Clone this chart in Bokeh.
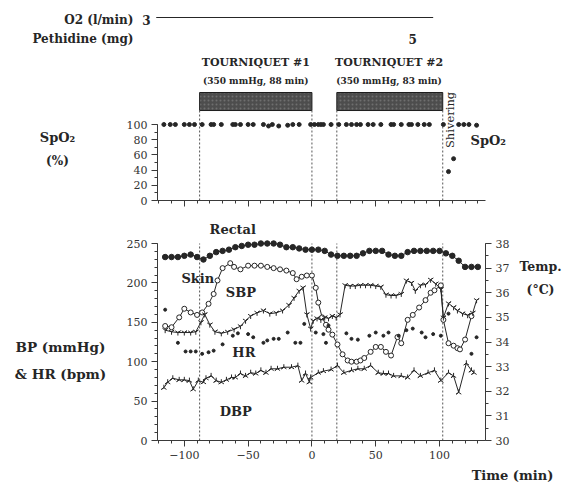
import numpy as np
from bokeh.plotting import figure
from bokeh.models import Range1d, LinearAxis, SingleIntervalTicker
from bokeh.layouts import column, row
from bokeh.embed import file_html
from bokeh.resources import INLINE
from bokeh.core.properties import value

# ---------------- data ----------------
tq_start = [-88, 19.5]          # tourniquet inflation (min)
tq_dur = [88, 83]               # tourniquet duration (min)
o2_span = [-122, 95]            # O2 3 l/min period
pethidine_t = 79                # pethidine 5 mg given

spo2_t = [-116, -111, -107, -100, -96, -92, -86, -79, -77, -71, -62, -60, -56, -50, -46, -38, -34, -31, -26, -19,
          -15, -10, -1, 2, 5, 7, 9, 15, 21, 27, 31, 35, 38, 44, 48, 54, 62, 64, 70, 76,
          78, 83, 88, 92, 103, 107, 111, 115, 119, 123, 129]
spo2_v = [100, 100, 100, 100, 100, 100, 100, 100, 100, 100, 100, 100, 100, 100, 100, 100, 98, 100, 98, 99,
          100, 100, 100, 100, 100, 100, 100, 100, 100, 100, 100, 100, 100, 100, 100, 100, 100, 100, 100, 100,
          100, 100, 100, 100, 100, 38, 55, 100, 100, 100, 99]

rectal_t = [-115, -110, -105, -100, -95, -90, -85, -80, -75, -70, -65, -60, -55, -50, -45, -40, -35, -30, -25, -20,
            -15, -10, -5, 0, 5, 10, 15, 20, 25, 30, 35, 40, 45, 50, 55, 60, 65, 70, 75, 80,
            85, 90, 95, 100, 105, 110, 115, 120, 125, 130]
rectal_c = [37.45, 37.45, 37.45, 37.5, 37.55, 37.45, 37.35, 37.5, 37.65, 37.7, 37.75, 37.85, 37.9, 37.95, 37.95, 38.0, 38.0, 38.0, 37.95, 37.85,
            37.85, 37.8, 37.75, 37.75, 37.75, 37.7, 37.55, 37.5, 37.5, 37.5, 37.5, 37.6, 37.7, 37.7, 37.7, 37.55, 37.5, 37.5, 37.65, 37.7,
            37.7, 37.7, 37.7, 37.7, 37.6, 37.5, 37.3, 37.05, 37.05, 37.05]

skin_t = [-115, -110, -104, -100, -95, -90, -86, -81, -77, -74, -70, -64, -61, -56, -50, -45, -40, -35, -30, -25,
          -20, -15, -12, -8, -4, 0, 3, 5, 8, 11, 13, 16, 20, 24, 28, 31, 35, 38, 41, 46,
          50, 54, 58, 62, 67, 70, 75, 79, 84, 89, 93, 96, 101, 103, 107, 111, 114, 116, 120, 125]
skin_c = [34.65, 34.6, 35.0, 35.35, 35.2, 35.1, 35.2, 35.55, 35.95, 36.5, 37.0, 37.2, 37.05, 36.95, 37.1, 37.1, 37.1, 37.05, 37.0, 36.95,
          36.9, 36.8, 36.55, 36.65, 36.7, 36.7, 36.2, 35.6, 35.0, 34.7, 34.5, 34.3, 33.9, 33.5, 33.25, 33.2, 33.2, 33.25, 33.35, 33.6,
          33.8, 33.8, 33.6, 33.45, 34.2, 33.95, 34.9, 35.1, 35.4, 35.7, 36.0, 36.1, 36.3, 34.9, 33.95, 33.85, 33.75, 33.7, 34.1, 35.05]

sbp_t = [-115, -110, -105, -100, -95, -91, -87, -84, -80, -76, -71, -66, -61, -56, -52, -48, -43, -38, -33, -28,
         -23, -18, -14, -10, -7, -4, -1, 1, 4, 7, 10, 13, 16, 19, 22, 26, 30, 34, 38, 42,
         46, 50, 54, 58, 62, 66, 70, 74, 78, 81, 85, 89, 93, 97, 101, 103, 107, 111, 114, 118,
         122, 126, 129]
sbp_v = [140, 138, 137, 137, 137, 138, 150, 160, 147, 138, 136, 138, 141, 145, 152, 158, 162, 165, 161, 162,
         165, 172, 181, 190, 194, 160, 142, 152, 155, 153, 156, 155, 158, 156, 160, 197, 196, 196, 197, 197,
         197, 196, 195, 185, 184, 184, 186, 203, 200, 190, 197, 198, 204, 199, 192, 156, 174, 169, 165, 161,
         159, 162, 178]

dbp_t = [-116, -113, -109, -104, -100, -96, -93, -89, -85, -83, -79, -75, -71, -67, -63, -60, -56, -52, -48, -44,
         -40, -36, -32, -27, -22, -16, -11, -8, -5, -2, -1, 5, 9, 15, 20, 25, 31, 36, 41, 46,
         52, 56, 60, 64, 70, 75, 80, 85, 91, 96, 101, 107, 111, 115, 121, 125, 127]
dbp_v = [67, 74, 79, 77, 77, 76, 65, 76, 74, 79, 82, 76, 74, 77, 80, 80, 85, 82, 86, 85,
         89, 86, 91, 91, 93, 93, 95, 76, 85, 74, 80, 86, 88, 90, 95, 86, 89, 91, 91, 95,
         86, 85, 85, 82, 82, 80, 89, 82, 86, 89, 76, 86, 82, 61, 98, 89, 86]

hr_t = [-115, -105, -99, -95, -91, -86, -81, -77, -70, -62, -58, -50, -46, -38, -35, -30, -26, -19, -13, -9,
        -6, 3, 9, 11, 13, 27, 31, 36, 45, 50, 56, 60, 68, 74, 79, 86, 89, 95, 101, 107,
        125, 129]
hr_v = [166, 124, 113, 113, 113, 110, 112, 114, 122, 133, 136, 135, 131, 124, 127, 129, 129, 137, 124, 124,
        148, 137, 135, 124, 146, 136, 129, 128, 133, 137, 133, 137, 133, 140, 142, 137, 131, 135, 133, 161,
        110, 131]

x_ticks = [-150, -100, -50, 0, 50, 100, 150]

# ---------------- styling / geometry ----------------
INK = "#262626"
AX = "#3a3a3a"
SERIF = "DejaVu Serif"
W = 570
X0, X1 = -121, 136                  # time axis extent
FL, FR = 157, 485                    # plot frame left / right (px)
S = (FR - FL) / (X1 - X0)            # px per minute
LW = 122                             # width of left text column


def px2min(px):
    return X0 + (px - FL) / S


def text_fig(w, h, xr, yr):
    p = figure(width=w, height=h, x_range=xr, y_range=yr, output_backend="svg",
               toolbar_location=None, x_axis_location=None, y_axis_location=None,
               min_border_left=0, min_border_right=0, min_border_top=0, min_border_bottom=0)
    p.outline_line_color = None
    p.grid.visible = False
    return p


def txt(p, x, y, s, size="13px", bold=True, align="center", angle=0.0):
    p.text(x=[x], y=[y], text=[s], text_font=value(SERIF), text_font_size=value(size),
           text_font_style=value("bold" if bold else "normal"), text_color=INK,
           text_align=value(align), text_baseline=value("middle"), angle=angle)


def style_axis(ax):
    ax.axis_line_color = AX
    ax.major_tick_line_color = AX
    ax.minor_tick_line_color = AX
    ax.major_tick_in = 0
    ax.major_tick_out = 6
    ax.minor_tick_in = 0
    ax.minor_tick_out = 3
    ax.major_label_text_font = SERIF
    ax.major_label_text_font_size = "11px"
    ax.major_label_text_color = "#333333"
    ax.major_label_standoff = 4


tq_end = [s + d for s, d in zip(tq_start, tq_dur)]
marks = tq_start + tq_end

# ---------------- header (O2 / pethidine), page y 0..50 ----------------
head = text_fig(W, 50, Range1d(px2min(0), px2min(W)), Range1d(50, 0))
head.line(x=o2_span, y=[17, 17], line_color=INK, line_width=1.2)
txt(head, px2min(133), 19, "O2 (l/min)", "12px", align="right")
txt(head, px2min(146), 19, "3", "12px")
txt(head, px2min(133), 38, "Pethidine (mg)", "12px", align="right")
txt(head, pethidine_t, 38, "5", "12px")

# ---------------- SpO2 panel, page y 50..215 ----------------
TOP_R = 520
top = figure(width=W - LW, height=165, x_range=Range1d(X0, px2min(TOP_R)),
             y_range=Range1d(0, 100 * (200 - 50) / (200 - 124)),
             output_backend="svg", toolbar_location=None,
             min_border_left=FL - LW, min_border_right=W - TOP_R, min_border_top=0, min_border_bottom=15)
top.outline_line_color = None
top.grid.visible = False
top.xaxis.ticker = SingleIntervalTicker(interval=50, num_minor_ticks=5)
top.yaxis.ticker = SingleIntervalTicker(interval=20, num_minor_ticks=2)
top.xaxis.bounds = (X0, X1)
top.yaxis.bounds = (0, 100)
style_axis(top.xaxis[0])
style_axis(top.yaxis[0])
top.xaxis.major_label_overrides = {t: "" for t in x_ticks}

top.quad(left=tq_start, right=tq_end, bottom=118.4, top=142.1,
         fill_color="#4d4d4d", line_color="#1e1e1e", line_width=1,
         hatch_pattern="dot", hatch_color="#8a8a8a", hatch_scale=4, hatch_alpha=0.55)
top.segment(x0=marks, x1=marks, y0=[0] * 4, y1=[118.4] * 4,
            line_color="#555555", line_dash="2 2", line_width=1)
top.scatter(spo2_t, spo2_v, marker="circle", size=4, color=INK)
txt(top, -44, 181.6, "TOURNIQUET #1", "11px")
txt(top, -44, 156.6, "(350 mmHg, 88 min)", "9px")
txt(top, 60.4, 181.6, "TOURNIQUET #2", "11px")
txt(top, 60.4, 156.6, "(350 mmHg, 83 min)", "9px")
txt(top, px2min(449), 106, "Shivering", "11.5px", bold=False, angle=np.pi / 2)
txt(top, px2min(470), 79, "SpO₂", "13px", align="left")

left1 = text_fig(LW, 165, Range1d(0, LW), Range1d(215, 50))
txt(left1, 57, 146, "SpO₂", "13px")
txt(left1, 57, 172, "(%)", "12px")

# ---------------- main panel, page y 215..466 ----------------
MR = 515
BP_TOP = 250 * (440 - 215) / (440 - 243)
main = figure(width=MR - LW, height=251, x_range=Range1d(X0, X1), y_range=Range1d(0, BP_TOP),
              output_backend="svg", toolbar_location=None,
              min_border_left=FL - LW, min_border_right=MR - FR, min_border_top=0, min_border_bottom=26)
main.outline_line_color = None
main.grid.visible = False
main.extra_y_ranges = {"temp": Range1d(30, 30 + 8 * BP_TOP / 250)}
main.xaxis.ticker = SingleIntervalTicker(interval=50, num_minor_ticks=5)
main.yaxis.ticker = SingleIntervalTicker(interval=50, num_minor_ticks=5)
main.yaxis.bounds = (0, 250)
style_axis(main.xaxis[0])
style_axis(main.yaxis[0])
rax = LinearAxis(y_range_name="temp", ticker=SingleIntervalTicker(interval=1, num_minor_ticks=2),
                 bounds=(30, 38))
style_axis(rax)
main.add_layout(rax, "right")

main.segment(x0=marks, x1=marks, y0=[0] * 4, y1=[250] * 4,
             line_color="#555555", line_dash="2 2", line_width=1)

main.line(rectal_t, rectal_c, y_range_name="temp", line_color=INK, line_width=1)
main.scatter(rectal_t, rectal_c, y_range_name="temp", marker="circle", size=5.5, color=INK)

main.line(skin_t, skin_c, y_range_name="temp", line_color=INK, line_width=1)
main.scatter(skin_t, skin_c, y_range_name="temp", marker="circle", size=5,
             fill_color="white", line_color=INK, line_width=1)

main.line(sbp_t, sbp_v, line_color=INK, line_width=1)
main.scatter(sbp_t, sbp_v, marker="y", size=6, line_color=INK, line_width=1)

main.line(dbp_t, dbp_v, line_color=INK, line_width=1)
main.scatter(dbp_t, dbp_v, marker="y", angle=np.pi, size=6, line_color=INK, line_width=1)

main.scatter(hr_t, hr_v, marker="circle", size=3, color=INK)

txt(main, -62, 267.8, "Rectal")
txt(main, -89.4, 205.6, "Skin")
txt(main, -55.7, 187.8, "SBP")
txt(main, -53.3, 111.7, "HR")
txt(main, -59.6, 36.8, "DBP")

left2 = text_fig(LW, 251, Range1d(0, LW), Range1d(466, 215))
txt(left2, 60, 362, "BP (mmHg)", "13.5px")
txt(left2, 60, 392, "& HR (bpm)", "13.5px")

right2 = text_fig(W - MR, 251, Range1d(MR, W), Range1d(466, 215))
txt(right2, 519, 272, "Temp.", "12.5px", align="left")
txt(right2, 526, 297, "(°C)", "12.5px", align="left")

# ---------------- footer, page y 466..490 ----------------
foot = text_fig(W, 24, Range1d(0, W), Range1d(490, 466))
txt(foot, 512, 475, "Time (min)", "13px")

layout = column(head, row(left1, top, spacing=0), row(left2, main, right2, spacing=0), foot, spacing=0)
open("out.html", "w").write(file_html(layout, INLINE))
